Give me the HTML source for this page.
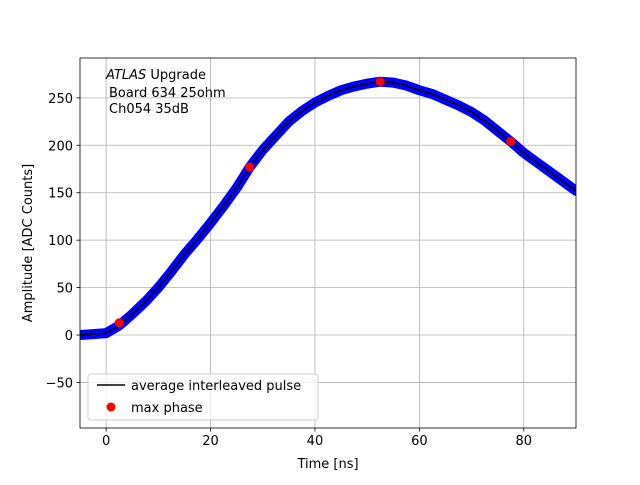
<!DOCTYPE html>
<html><head><meta charset="utf-8"><style>
body{margin:0;background:#fff}
svg text{font-family:"DejaVu Sans","Liberation Sans",sans-serif;font-size:13px;fill:#000}
</style></head><body>
<svg id="c" width="640" height="480" xmlns="http://www.w3.org/2000/svg"></svg>
<script>
const times=[-5,-2.5,0,2.5,5,7.5,10,12.5,15,17.5,20,22.5,25,27.5,30,32.5,35,37.5,40,42.5,45,47.5,50,52.5,55,57.5,60,62.5,65,67.5,70,72.5,75,77.5,80,82.5,85,87.5,90];
const amps=[0,1,2,10,22,35,50,67,85,101,118,136,155,177,195,210,225,236,245,252,258,262,265,267,266,263,258,254,248,242,235,226,215,204,192,182,172,162,152];
const maxT=[2.5,27.5,52.5,77.5];
const maxA=[13,177,267,204];
const xTicks=[0,20,40,60,80];
const yTicks=[-50,0,50,100,150,200,250];
const L=80,R=576,T=58,B=428,x0=-5,x1=90,y0=-98,y1=292;
const X=v=>L+(v-x0)/(x1-x0)*(R-L);
const Y=v=>B-(v-y0)/(y1-y0)*(B-T);
const svg=document.getElementById('c');
const NS='http://www.w3.org/2000/svg';
function mk(tag,attrs,parent){const e=document.createElementNS(NS,tag);for(const k in attrs)e.setAttribute(k,attrs[k]);(parent||svg).appendChild(e);return e;}
const clip=mk('clipPath',{id:'cp'});mk('rect',{x:L,y:T,width:R-L,height:B-T},clip);
const grid=mk('g',{});


xTicks.forEach(t=>{mk('line',{x1:X(t),x2:X(t),y1:T,y2:B,stroke:'#b0b0b0','stroke-width':0.8},grid);
 mk('line',{x1:X(t),x2:X(t),y1:B,y2:B+3.5,stroke:'#000','stroke-width':0.8});
 const tx=mk('text',{x:X(t),y:B+17,'text-anchor':'middle'});tx.textContent=t;
 
 });
yTicks.forEach(t=>{mk('line',{x1:L,x2:R,y1:Y(t),y2:Y(t),stroke:'#b0b0b0','stroke-width':0.8},grid);
 mk('line',{x1:L-3.5,x2:L,y1:Y(t),y2:Y(t),stroke:'#000','stroke-width':0.8});
 const tx=mk('text',{x:L-7,y:Y(t)+5,'text-anchor':'end'});tx.textContent=t==-50?'\u221250':t;
 
 });
const g=mk('g',{'clip-path':'url(#cp)'});
const pts=times.map((t,i)=>X(t)+','+Y(amps[i])).join(' ');
const band=mk('polyline',{points:pts,fill:'none',stroke:'#0000ff','stroke-width':10,'stroke-linejoin':'round','stroke-linecap':'round'},g);


const line=mk('polyline',{points:pts,fill:'none',stroke:'#000','stroke-width':1.5},g);


maxT.forEach((t,i)=>{const d=mk('circle',{cx:X(t),cy:Y(maxA[i]),r:4.5,fill:'#ff0000'},g);
 
 });
mk('rect',{x:L,y:T,width:R-L,height:B-T,fill:'none',stroke:'#000','stroke-width':0.8});
</script>
<svg width="640" height="480" style="position:absolute;left:0;top:0" xmlns="http://www.w3.org/2000/svg">
<text x="328" y="468" text-anchor="middle">Time [ns]</text>
<text transform="translate(32,243) rotate(-90)" text-anchor="middle">Amplitude [ADC Counts]</text>
<g>
<text x="106" y="79"><tspan font-style="italic">ATLAS</tspan> Upgrade</text>
<text x="109" y="97">Board 634 25ohm</text>
<text x="109" y="113">Ch054 35dB</text>
</g>
<g>
<rect x="88" y="374" width="230" height="46" rx="3" fill="#fff" fill-opacity="0.8" stroke="#ccc"/>
<line x1="97" x2="125" y1="385" y2="385" stroke="#000" stroke-width="1.5"/>
<text x="131" y="390">average interleaved pulse</text>
<circle cx="111" cy="407" r="4.5" fill="#ff0000"/>
<text x="131" y="412">max phase</text>
</g>
</svg>
</body></html>
